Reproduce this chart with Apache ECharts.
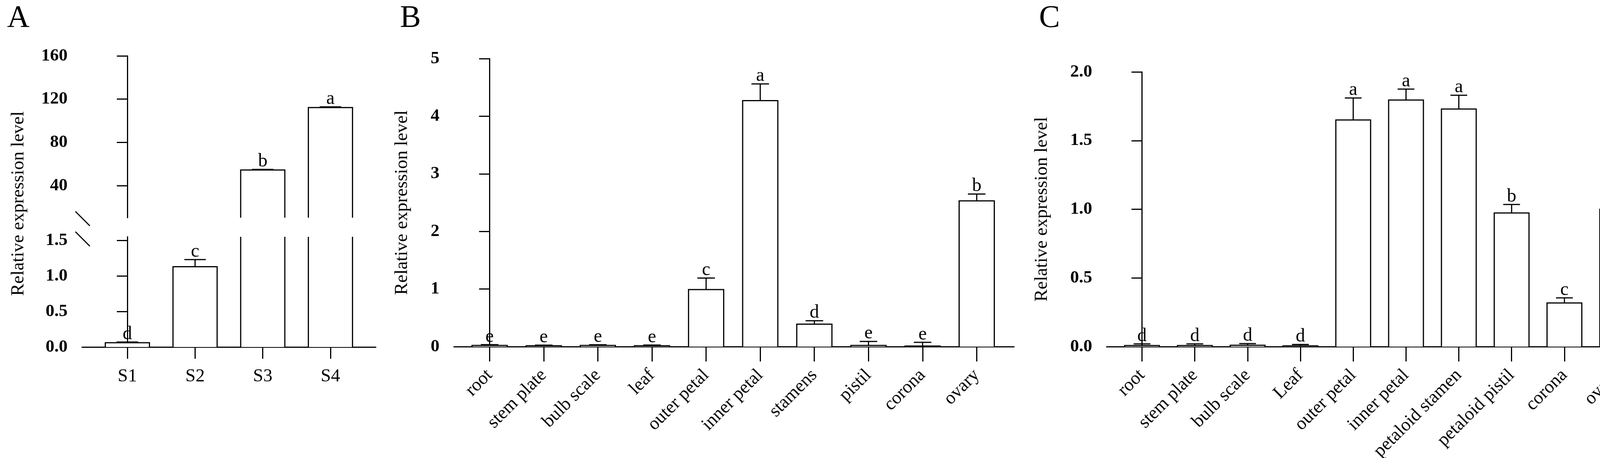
<!DOCTYPE html>
<html>
<head>
<meta charset="utf-8">
<script src="https://cdn.jsdelivr.net/npm/echarts@6/dist/echarts.min.js"></script>
<style>html,body{margin:0;padding:0;background:#fff}#main{width:4249px;height:1172px}</style>
</head>
<body>
<div id="main"></div>
<script type="text/javascript">
// 数据 A
var catsA = ['S1', 'S2', 'S3', 'S4'];
var meanA = [0.06, 1.13, 54.5, 112.2];
var errA = [0.01, 0.1, 0.5, 0.6];
var sigA = ['d', 'c', 'b', 'a'];
var ticksAUp = [40, 80, 120, 160];
var ticksALow = [0, 0.5, 1.0, 1.5];

// 数据 B
var catsB = ['root', 'stem plate', 'bulb scale', 'leaf', 'outer petal', 'inner petal', 'stamens', 'pistil', 'corona', 'ovary'];
var meanB = [0.02, 0.015, 0.02, 0.015, 0.99, 4.27, 0.39, 0.02, 0.01, 2.53];
var errB = [0.014, 0.01, 0.012, 0.012, 0.2, 0.29, 0.06, 0.07, 0.065, 0.12];
var sigB = ['e', 'e', 'e', 'e', 'c', 'a', 'd', 'e', 'e', 'b'];

// 数据 C
var catsC = ['root', 'stem plate', 'bulb scale', 'Leaf', 'outer petal', 'inner petal', 'petaloid stamen', 'petaloid pistil', 'corona', 'ovary'];
var meanC = [0.008, 0.008, 0.01, 0.006, 1.65, 1.795, 1.73, 0.973, 0.318, 1.0];
var errC = [0.012, 0.012, 0.012, 0.01, 0.16, 0.08, 0.1, 0.062, 0.037, 0.135];
var sigC = ['d', 'd', 'd', 'd', 'a', 'a', 'a', 'b', 'c', 'b'];

var FONT = 'Liberation Serif';
var LW = 3;

var toData = function (means, errs) {
    return means.map(function (m, i) { return [i, m, errs[i]]; });
};

// 画柱子 + 误差线 + 字母
var makeRender = function (barW, capW, sigs, mode) {
    return function (params, api) {
        var i = api.value(0), v = api.value(1), e = api.value(2);
        var cs = params.coordSys;
        var bottom = cs.y + cs.height;
        var top = cs.y;
        var cx = api.coord([i, 0])[0];
        var half = barW / 2;
        var yv = api.coord([i, v])[1];
        var children = [];
        if (mode === 'upper' && yv >= bottom) return null;
        var clipped = yv < top;
        if (clipped) yv = top;
        children.push({
            type: 'rect',
            shape: { x: cx - half, y: yv, width: barW, height: bottom - yv },
            style: { fill: '#fff' }
        });
        if (clipped) {
            children.push({ type: 'line', shape: { x1: cx - half, y1: bottom, x2: cx - half, y2: top }, style: { stroke: '#000', lineWidth: LW } });
            children.push({ type: 'line', shape: { x1: cx + half, y1: bottom, x2: cx + half, y2: top }, style: { stroke: '#000', lineWidth: LW } });
            return { type: 'group', children: children };
        }
        var pts = [[cx - half, bottom], [cx - half, yv], [cx + half, yv], [cx + half, bottom]];
        children.push({ type: 'polyline', shape: { points: pts }, style: { stroke: '#000', lineWidth: LW, fill: null } });
        var ye = api.coord([i, v + e])[1];
        children.push({ type: 'line', shape: { x1: cx, y1: yv, x2: cx, y2: ye }, style: { stroke: '#000', lineWidth: LW } });
        children.push({ type: 'line', shape: { x1: cx - capW / 2, y1: ye, x2: cx + capW / 2, y2: ye }, style: { stroke: '#000', lineWidth: LW } });
        children.push({
            type: 'text',
            style: { text: sigs[i], x: cx, y: ye + 4, align: 'center', verticalAlign: 'bottom', font: '48px "' + FONT + '"', fill: '#000' }
        });
        return { type: 'group', children: children };
    };
};

var idxList = function (n) { var a = []; for (var i = 0; i < n; i++) a.push(i); return a; };

var xAxisCfg = function (gi, cats, min, max, show, tickLen, margin, rotate) {
    return {
        type: 'value', gridIndex: gi, min: min, max: max,
        splitLine: { show: false },
        axisLine: { show: show, onZero: false, lineStyle: { color: '#000', width: LW } },
        axisTick: { show: show, length: tickLen, customValues: idxList(cats.length), lineStyle: { color: '#000', width: LW } },
        axisLabel: {
            show: show, customValues: idxList(cats.length), margin: margin, rotate: rotate,
            formatter: function (v) { return cats[Math.round(v)]; },
            fontFamily: FONT, fontSize: 47, color: '#000'
        }
    };
};

var yAxisCfg = function (gi, min, max, extra) {
    var o = {
        type: 'value', gridIndex: gi, min: min, max: max,
        splitLine: { show: false },
        axisLine: { show: true, lineStyle: { color: '#000', width: LW } },
        axisTick: { show: true, length: 27, lineStyle: { color: '#000', width: LW } },
        axisLabel: { margin: 37, fontFamily: FONT, fontWeight: 'bold', fontSize: 45, color: '#000' },
        nameTextStyle: { fontFamily: FONT, fontSize: 47, color: '#000' }
    };
    for (var k in extra) {
        if (typeof extra[k] === 'object' && o[k]) { for (var kk in extra[k]) o[k][kk] = extra[k][kk]; }
        else o[k] = extra[k];
    }
    return o;
};

var myChart = echarts.init(document.getElementById('main'));
var option = {
    backgroundColor: '#fff',
    animation: false,
    grid: [
        { left: 210, top: 143, width: 752, height: 414, outerBoundsMode: 'none', containLabel: false },
        { left: 210, top: 606, width: 752, height: 282, outerBoundsMode: 'none', containLabel: false },
        { left: 1162, top: 150, width: 1434, height: 737, outerBoundsMode: 'none', containLabel: false },
        { left: 2833, top: 184, width: 1399, height: 703, outerBoundsMode: 'none', containLabel: false }
    ],
    xAxis: [
        xAxisCfg(0, catsA, -0.67, 3.67, false, 30, 52, 0),
        xAxisCfg(1, catsA, -0.67, 3.67, true, 30, 52, 0),
        xAxisCfg(2, catsB, -0.66, 9.69, true, 38, 66, 45),
        xAxisCfg(3, catsC, -0.67, 9.68, true, 38, 66, 45)
    ],
    yAxis: [
        yAxisCfg(0, 10.4, 160, {
            axisTick: { customValues: ticksAUp },
            axisLabel: { customValues: ticksAUp }
        }),
        yAxisCfg(1, 0, 1.55, {
            axisTick: { customValues: ticksALow },
            axisLabel: { customValues: ticksALow, formatter: function (v) { return v.toFixed(1); } }
        }),
        yAxisCfg(2, 0, 5, {
            interval: 1,
            name: 'Relative expression level', nameLocation: 'middle', nameGap: 109
        }),
        yAxisCfg(3, 0, 2, {
            interval: 0.5,
            axisLabel: { formatter: function (v) { return v.toFixed(1); } },
            name: 'Relative expression level', nameLocation: 'middle', nameGap: 142
        })
    ],
    series: [
        { type: 'custom', xAxisIndex: 0, yAxisIndex: 0, renderItem: makeRender(113, 55, sigA, 'upper'), data: toData(meanA, errA), clip: false },
        { type: 'custom', xAxisIndex: 1, yAxisIndex: 1, renderItem: makeRender(113, 55, sigA, 'lower'), data: toData(meanA, errA), clip: false },
        { type: 'custom', xAxisIndex: 2, yAxisIndex: 2, renderItem: makeRender(90, 45, sigB, 'normal'), data: toData(meanB, errB), clip: false },
        { type: 'custom', xAxisIndex: 3, yAxisIndex: 3, renderItem: makeRender(89, 43, sigC, 'normal'), data: toData(meanC, errC), clip: false }
    ],
    graphic: [
        { type: 'text', left: 18, top: 8, style: { text: 'A', font: '80px "' + FONT + '"', fill: '#000' } },
        { type: 'text', left: 1024, top: 8, style: { text: 'B', font: '80px "' + FONT + '"', fill: '#000' } },
        { type: 'text', left: 2660, top: 8, style: { text: 'C', font: '80px "' + FONT + '"', fill: '#000' } },
        {
            type: 'text', x: 48, y: 521, rotation: Math.PI / 2,
            style: { text: 'Relative expression level', font: '47px "' + FONT + '"', fill: '#000', align: 'center', verticalAlign: 'middle' }
        },
        // 断轴标记
        { type: 'line', shape: { x1: 193, y1: 541, x2: 230, y2: 578 }, style: { stroke: '#000', lineWidth: LW } },
        { type: 'line', shape: { x1: 193, y1: 593, x2: 230, y2: 630 }, style: { stroke: '#000', lineWidth: LW } }
    ]
};
myChart.setOption(option);
</script>
</body>
</html>
